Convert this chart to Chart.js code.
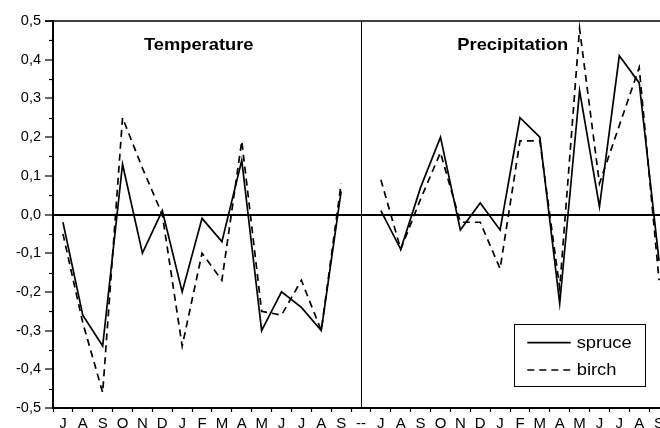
<!DOCTYPE html>
<html><head><meta charset="utf-8">
<script src="https://cdn.jsdelivr.net/npm/chart.js@4.4.1/dist/chart.umd.min.js"></script>
<style>
html,body{margin:0;padding:0;background:#fff;overflow:hidden;width:660px;height:428px}
#wrap{position:absolute;left:0;top:0;width:669px;height:428px}
</style></head>
<body><div id="wrap"><canvas id="c" width="669" height="428"></canvas></div>
<script>
// ---- data ----
const panelMonths = ['J','A','S','O','N','D','J','F','M','A','M','J','J','A','S'];
const separatorLabel = '--';
const categories = [...panelMonths, separatorLabel, ...panelMonths];
const panelTitles = ['Temperature', 'Precipitation'];
const seriesNames = ['spruce', 'birch'];

const spruceTemperature   = [-0.02,-0.26,-0.34, 0.13,-0.10, 0.01,-0.20,-0.01,-0.07, 0.14,-0.30,-0.20,-0.24,-0.30, 0.06];
const birchTemperature    = [-0.05,-0.28,-0.46, 0.25, 0.12, 0.00,-0.34,-0.10,-0.17, 0.19,-0.25,-0.26,-0.17,-0.30, 0.08];
const sprucePrecipitation = [ 0.01,-0.09, 0.07, 0.20,-0.04, 0.03,-0.04, 0.25, 0.20,-0.23, 0.32, 0.02, 0.41, 0.34,-0.12];
const birchPrecipitation  = [ 0.09,-0.09, 0.04, 0.16,-0.02,-0.02,-0.14, 0.19, 0.19,-0.19, 0.48, 0.08, 0.23, 0.38,-0.17];

const yMin = -0.5, yMax = 0.5, yStep = 0.1;

// ---- helpers ----
const FONT = '"Liberation Sans", Arial, sans-serif';
const fmt = v => (Math.abs(v) < 1e-9 ? 0 : v).toFixed(1).replace('.', ',');
const separatorIndex = panelMonths.length;

const decor = {
  id: 'decor',
  afterDraw(chart) {
    const {ctx, chartArea: ca, scales: {x, y}} = chart;
    ctx.save();
    ctx.strokeStyle = '#000';
    ctx.fillStyle = '#000';
    // top frame line
    ctx.lineWidth = 1.5;
    ctx.beginPath(); ctx.moveTo(ca.left - 8, ca.top); ctx.lineTo(ca.right, ca.top); ctx.stroke();
    // panel divider
    const xd = Math.round(x.getPixelForValue(separatorIndex)) + 0.5;
    ctx.lineWidth = 1;
    ctx.beginPath(); ctx.moveTo(xd, ca.top); ctx.lineTo(xd, ca.bottom); ctx.stroke();
    // minor y ticks
    ctx.lineWidth = 1.2;
    for (let v = yMin + yStep / 2; v < yMax; v += yStep) {
      const py = Math.round(y.getPixelForValue(v)) + 0.5;
      ctx.beginPath(); ctx.moveTo(ca.left - 4, py); ctx.lineTo(ca.left, py); ctx.stroke();
    }
    // panel titles
    const drawStretched = (text, cx, by, size, sx, bold, align) => {
      ctx.save();
      ctx.translate(cx, by);
      ctx.scale(sx, 1);
      ctx.font = (bold ? 'bold ' : '') + size + 'px ' + FONT;
      ctx.textAlign = align;
      ctx.textBaseline = 'alphabetic';
      ctx.fillText(text, 0, 0);
      ctx.restore();
    };
    drawStretched(panelTitles[0], 198.7, 49.5, 16.5, 1.11, true, 'center');
    drawStretched(panelTitles[1], 512.8, 49.5, 16.5, 1.11, true, 'center');
    // legend
    const bx = 514.5, by = 324.5, bw = 131, bh = 62;
    ctx.lineWidth = 1;
    ctx.strokeRect(bx, by, bw, bh);
    const rows = [342.7, 370];
    chart.data.datasets.forEach((ds, i) => {
      const ly = rows[i];
      ctx.save();
      ctx.lineWidth = ds.borderWidth;
      ctx.setLineDash(ds.borderDash || []);
      ctx.beginPath(); ctx.moveTo(527.3, ly); ctx.lineTo(570.7, ly); ctx.stroke();
      ctx.restore();
      drawStretched(ds.label, 576.7, ly + 4.8, 16, 1.146, false, 'left');
    });
    ctx.restore();
  }
};

new Chart(document.getElementById('c'), {
  type: 'line',
  data: {
    labels: categories,
    datasets: [
      {label: seriesNames[0], data: [...spruceTemperature, null, ...sprucePrecipitation],
       borderColor: '#000', borderWidth: 1.7, pointRadius: 0, fill: false, tension: 0, spanGaps: false},
      {label: seriesNames[1], data: [...birchTemperature, null, ...birchPrecipitation],
       borderColor: '#000', borderWidth: 1.7, borderDash: [7, 5], pointRadius: 0, fill: false, tension: 0, spanGaps: false}
    ]
  },
  options: {
    responsive: false,
    animation: false,
    devicePixelRatio: 1,
    events: [],
    layout: {padding: {top: 21, right: 0, left: 0, bottom: 0}},
    plugins: {legend: {display: false}, tooltip: {enabled: false}, title: {display: false}},
    scales: {
      x: {
        type: 'category',
        offset: true,
        afterFit(s) { s.height = 20; },
        border: {display: true, color: '#000', width: 2},
        grid: {offset: true, drawOnChartArea: false, drawTicks: true, tickLength: 4, tickColor: '#000', tickWidth: 1.2, color: '#000'},
        ticks: {autoSkip: false, maxRotation: 0, minRotation: 0, padding: 3, color: '#000', font: {family: FONT, size: 15}}
      },
      y: {
        min: yMin, max: yMax,
        afterFit(s) { s.width = 53; },
        border: {display: true, color: '#000', width: 2},
        grid: {
          drawOnChartArea: true,
          color: c => (c.tick && Math.abs(c.tick.value) < 1e-9) ? '#000' : 'rgba(0,0,0,0)',
          lineWidth: c => (c.tick && Math.abs(c.tick.value) < 1e-9) ? 2 : 0,
          tickColor: '#000', tickLength: 8, tickWidth: 1.2
        },
        ticks: {stepSize: yStep, padding: 4, color: '#000', font: {family: FONT, size: 14.5}, callback: v => fmt(v)}
      }
    }
  },
  plugins: [decor]
});
</script>
</body></html>
